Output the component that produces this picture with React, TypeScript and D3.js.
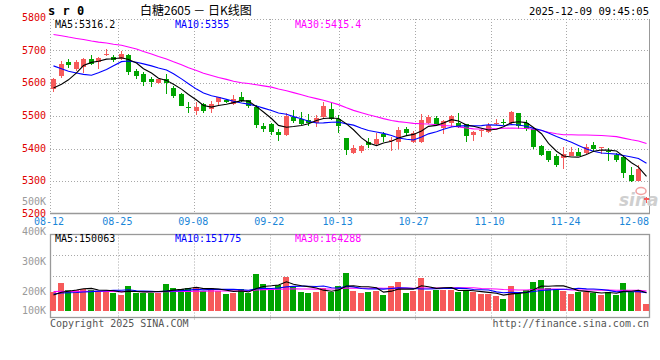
import React, { useEffect, useRef } from "react";
import * as d3 from "d3";

// trading days shown (08-12 .. 12-09, last one is the live session)
const dates = [
  "08-12", "08-13", "08-14", "08-15", "08-18", "08-19", "08-20", "08-21", "08-22", "08-25",
  "08-26", "08-27", "08-28", "08-29", "09-01", "09-02", "09-03", "09-04", "09-05", "09-08",
  "09-09", "09-10", "09-11", "09-12", "09-15", "09-16", "09-17", "09-18", "09-19", "09-22",
  "09-23", "09-24", "09-25", "09-26", "09-29", "09-30", "10-09", "10-10", "10-13", "10-14",
  "10-15", "10-16", "10-17", "10-20", "10-21", "10-22", "10-23", "10-24", "10-27", "10-28",
  "10-29", "10-30", "10-31", "11-03", "11-04", "11-05", "11-06", "11-07", "11-10", "11-11",
  "11-12", "11-13", "11-14", "11-17", "11-18", "11-19", "11-20", "11-21", "11-24", "11-25",
  "11-26", "11-27", "11-28", "12-01", "12-02", "12-03", "12-04", "12-05", "12-08", "12-09",
];

const opens = [
  5582, 5622, 5664, 5642, 5650, 5675, 5665, 5685, 5680, 5674,
  5687, 5637, 5627, 5612, 5602, 5614, 5584, 5567, 5527, 5516,
  5537, 5520, 5543, 5549, 5537, 5559, 5549, 5528, 5470, 5476,
  5452, 5442, 5496, 5490, 5488, 5478, 5498, 5522, 5490, 5431,
  5387, 5392, 5420, 5413, 5444, 5424, 5421, 5459, 5421, 5421,
  5479, 5493, 5462, 5479, 5479, 5475, 5443, 5454, 5452, 5475,
  5482, 5477, 5510, 5479, 5459, 5408, 5394, 5376, 5370, 5378,
  5391, 5386, 5411, 5402, 5394, 5381, 5373, 5319, 5302, 5243,
];
const highs = [
  5617, 5667, 5675, 5670, 5677, 5685, 5680, 5704, 5687, 5700,
  5690, 5644, 5634, 5620, 5614, 5627, 5592, 5570, 5541, 5541,
  5540, 5547, 5559, 5552, 5564, 5574, 5550, 5532, 5477, 5478,
  5459, 5510, 5518, 5513, 5505, 5503, 5544, 5539, 5503, 5431,
  5410, 5412, 5433, 5448, 5452, 5436, 5467, 5466, 5455, 5505,
  5503, 5500, 5488, 5503, 5508, 5475, 5453, 5461, 5477, 5490,
  5490, 5516, 5510, 5487, 5459, 5412, 5394, 5385, 5405, 5404,
  5401, 5414, 5421, 5406, 5401, 5388, 5377, 5344, 5350, 5253,
];
const lows = [
  5574, 5617, 5647, 5637, 5630, 5657, 5642, 5682, 5664, 5670,
  5624, 5614, 5590, 5587, 5598, 5567, 5555, 5529, 5510, 5503,
  5508, 5510, 5531, 5538, 5533, 5544, 5525, 5462, 5450, 5442,
  5424, 5440, 5478, 5472, 5470, 5465, 5493, 5488, 5448, 5379,
  5383, 5388, 5403, 5410, 5420, 5392, 5400, 5440, 5418, 5418,
  5476, 5469, 5446, 5466, 5462, 5420, 5424, 5436, 5449, 5473,
  5473, 5475, 5460, 5455, 5400, 5378, 5360, 5343, 5337, 5376,
  5376, 5384, 5391, 5384, 5363, 5360, 5309, 5299, 5302, 5233,
];
const closes = [
  5612, 5660, 5657, 5666, 5675, 5660, 5677, 5690, 5672, 5690,
  5634, 5622, 5604, 5605, 5612, 5600, 5562, 5531, 5523, 5527,
  5516, 5537, 5557, 5541, 5552, 5547, 5529, 5472, 5460, 5452,
  5442, 5500, 5483, 5476, 5478, 5493, 5531, 5490, 5469, 5395,
  5403, 5407, 5412, 5429, 5436, 5427, 5457, 5449, 5448, 5488,
  5498, 5472, 5485, 5500, 5467, 5438, 5451, 5456, 5472, 5479,
  5477, 5513, 5469, 5459, 5405, 5381, 5365, 5350, 5385, 5391,
  5378, 5406, 5399, 5404, 5389, 5365, 5324, 5302, 5337, 5248,
];
const volumes = [
  160000, 235000, 174000, 174000, 182000, 174000, 165000, 165000, 151000, 132000,
  207000, 151000, 151000, 151000, 146000, 224000, 191000, 182000, 191000, 199000,
  165000, 191000, 165000, 140000, 151000, 182000, 151000, 308000, 224000, 182000,
  216000, 283000, 207000, 157000, 149000, 157000, 193000, 160000, 207000, 319000,
  168000, 151000, 160000, 168000, 132000, 210000, 244000, 151000, 168000, 277000,
  168000, 174000, 174000, 174000, 160000, 174000, 155000, 140000, 140000, 123000,
  98000, 207000, 160000, 174000, 241000, 258000, 193000, 182000, 168000, 140000,
  160000, 160000, 151000, 132000, 160000, 132000, 235000, 160000, 174000, 56000,
];

// closes / volumes before 08-12, estimated from where the MA lines start
const priorCloses = [
  5770, 5785, 5790, 5775, 5795, 5780, 5770, 5790, 5780, 5790,
  5815, 5835, 5830, 5840, 5825, 5815, 5800, 5805, 5790, 5760,
  5745, 5735, 5720, 5718, 5687, 5600, 5590, 5560, 5563,
];
const priorVolumes = [
  165000, 175000, 180000, 170000, 160000, 185000, 175000, 165000, 170000, 180000,
  160000, 175000, 170000, 165000, 180000, 170000, 160000, 175000, 170000, 160000,
  150000, 145000, 155000, 140000, 150000, 120000, 130000, 125000, 125000,
];

const priceTicks = [5200, 5300, 5400, 5500, 5600, 5700, 5800];
const priceGrid = [5300, 5400, 5500, 5600, 5700];
const volTicks = [100000, 200000, 300000, 400000, 500000];
const dateTicks = ["08-12", "08-25", "09-08", "09-22", "10-13", "10-27", "11-10", "11-24", "12-08"];

const RED = "#f65a5a";
const GREEN = "#00a400";
const MONO = "'DejaVu Sans Mono', monospace";

const movingAvg = (prior: number[], vals: number[], n: number) => {
  const all = prior.concat(vals);
  return vals.map((_, i) => d3.mean(all.slice(prior.length + i - n + 1, prior.length + i + 1)) as number);
};

const App = () => {
  const svgRef = useRef<SVGSVGElement>(null);

  useEffect(() => {
    const svg = d3.select(svgRef.current);
    svg.selectAll("*").remove();

    const left = 50;
    const right = 650;
    const mainTop = 19;
    const mainBottom = 213.5;
    const volTop = 234.5;
    const volBottom = 317.5;
    const volBase = 310.7;

    const idx = d3.range(dates.length);
    const x = d3.scaleBand<number>().domain(idx).range([left, right]);
    const bw = x.bandwidth();
    const cx = (i: number) => Math.floor((x(i) as number) + bw / 2) + 0.5;
    // date gridlines sit on a point scale over the same width
    const xg = d3.scalePoint<string>().domain(dates).range([left, right]);
    const gx = (d: string) => Math.round(xg(d) as number) + 0.5;

    const y = d3.scaleLinear().domain([5200, 5800]).range([214, 17.8]);
    const yv = d3.scaleLinear().domain([0, 600000]).range([volBase, volBase - 600000 / 8400]);
    const yvLabel = d3.scaleLinear().domain([200000, 500000]).range([290.7, 200.7]);

    svg.append("rect").attr("width", 660).attr("height", 360).attr("fill", "#fff");

    // ---- header
    svg.append("text").attr("x", 48).attr("y", 15).attr("font-family", MONO)
      .attr("font-size", 12).attr("font-weight", "bold").attr("fill", "#000").text("s r 0");
    svg.append("text").attr("x", 140).attr("y", 15)
      .attr("font-family", "'Noto Sans CJK SC', sans-serif").attr("font-size", 12).attr("fill", "#000")
      .text("白糖2605 － 日K线图");
    svg.append("text").attr("x", 649).attr("y", 15).attr("text-anchor", "end").attr("font-family", MONO)
      .attr("font-size", 10.5).attr("fill", "#000").text("2025-12-09 09:45:05");

    // ---- main panel grid
    const grid = svg.append("g").attr("stroke", "#a8a8a8").attr("stroke-dasharray", "1,2").attr("fill", "none");
    priceGrid.forEach((p) => {
      const yy = Math.round(y(p)) + 0.5;
      grid.append("line").attr("x1", left).attr("x2", right).attr("y1", yy).attr("y2", yy);
    });
    grid.append("line").attr("x1", left).attr("x2", right).attr("y1", mainTop + 0.5).attr("y2", mainTop + 0.5);
    grid.append("line").attr("x1", left + 0.5).attr("x2", left + 0.5).attr("y1", mainTop).attr("y2", mainBottom);
    dateTicks.slice(1, -1).forEach((d) => {
      grid.append("line").attr("x1", gx(d)).attr("x2", gx(d)).attr("y1", mainTop).attr("y2", mainBottom);
      grid.append("line").attr("x1", gx(d)).attr("x2", gx(d)).attr("y1", volTop).attr("y2", volBottom + 3);
    });
    svg.append("line").attr("x1", right - 0.5).attr("x2", right - 0.5).attr("y1", mainTop).attr("y2", mainBottom)
      .attr("stroke", "#999");
    svg.append("line").attr("x1", left).attr("x2", right).attr("y1", mainBottom).attr("y2", mainBottom)
      .attr("stroke", "#999").attr("stroke-width", 1.5);

    // price labels
    priceTicks.forEach((p) => {
      svg.append("text").attr("x", 46).attr("y", y(p) + 3).attr("text-anchor", "end")
        .attr("font-family", MONO).attr("font-size", 10).attr("fill", "#e00000").text(String(p));
    });

    // volume labels (sina places them on its own offset scale)
    volTicks.forEach((v) => {
      const yy = Math.min(yvLabel(v), 310);
      svg.append("text").attr("x", 46).attr("y", yy + 4).attr("text-anchor", "end")
        .attr("font-family", MONO).attr("font-size", 10).attr("fill", "#9a9a9a").text(`${v / 1000}K`);
    });

    // date labels
    dateTicks.forEach((d) => {
      const xx = Math.min(xg(d) as number, right - 15);
      svg.append("text").attr("x", xx - 1).attr("y", 225.3).attr("text-anchor", "middle")
        .attr("font-family", MONO).attr("font-size", 10).attr("fill", "#1a86d8").text(d);
    });

    // sina watermark
    svg.append("text").attr("x", 619).attr("y", 206).attr("font-family", "'DejaVu Sans', sans-serif")
      .attr("font-size", 17).attr("font-style", "italic").attr("font-weight", "bold").attr("fill", "#cfcfcf")
      .text("sina");
    svg.append("ellipse").attr("cx", 641).attr("cy", 191).attr("rx", 5).attr("ry", 3.5)
      .attr("fill", "none").attr("stroke", "#f2a0a0").attr("stroke-width", 1.5);

    // ---- candles
    const up = (i: number) => closes[i] >= opens[i];
    const candles = svg.append("g").attr("shape-rendering", "crispEdges");
    idx.forEach((i) => {
      const col = up(i) ? RED : GREEN;
      candles.append("line").attr("x1", cx(i)).attr("x2", cx(i))
        .attr("y1", y(highs[i])).attr("y2", y(lows[i])).attr("stroke", col);
      const top = Math.round(y(Math.max(opens[i], closes[i])));
      const bot = Math.round(y(Math.min(opens[i], closes[i])));
      candles.append("rect").attr("x", cx(i) - 3).attr("width", 5)
        .attr("y", top).attr("height", Math.max(1, bot - top)).attr("fill", col);
    });

    // ---- price MAs
    const ma5 = movingAvg(priorCloses, closes, 5);
    const ma10 = movingAvg(priorCloses, closes, 10);
    const ma30 = movingAvg(priorCloses, closes, 30);
    const pline = d3.line<number>().x((_, i) => cx(i)).y((d) => y(d));
    [[ma30, "#ff00ff"], [ma10, "#0000ff"], [ma5, "#000"]].forEach(([s, c]) => {
      svg.append("path").attr("d", pline(s as number[])).attr("fill", "none")
        .attr("stroke", c as string).attr("stroke-width", 1.1);
    });

    // legend
    const legend = (yy: number, items: [string, string, number][]) => {
      items.forEach(([t, c, xx]) => {
        svg.append("text").attr("x", xx).attr("y", yy).attr("font-family", MONO)
          .attr("font-size", 10).attr("fill", c).text(t);
      });
    };
    legend(27.5, [["MA5:5316.2", "#000", 55], ["MA10:5355", "#0000ff", 175], ["MA30:5415.4", "#ff00ff", 295]]);

    // ---- volume panel
    const vg = svg.append("g").attr("stroke", "#a8a8a8").attr("stroke-dasharray", "1,2");
    [volTop + (volBottom - volTop) / 4, volTop + (volBottom - volTop) / 2].forEach((yy) => {
      vg.append("line").attr("x1", left).attr("x2", right).attr("y1", Math.round(yy) + 0.5).attr("y2", Math.round(yy) + 0.5);
    });
    svg.append("rect").attr("x", left + 0.5).attr("y", volTop).attr("width", right - left - 1)
      .attr("height", volBottom - volTop).attr("fill", "none").attr("stroke", "#999").attr("stroke-width", 1.3);

    const bars = svg.append("g").attr("shape-rendering", "crispEdges");
    idx.forEach((i) => {
      const top = Math.round(yv(volumes[i]));
      bars.append("rect").attr("x", cx(i) - 3.5).attr("width", 6)
        .attr("y", top).attr("height", Math.round(volBase) - top)
        .attr("fill", up(i) ? RED : GREEN);
    });

    const vma5 = movingAvg(priorVolumes, volumes, 5);
    const vma10 = movingAvg(priorVolumes, volumes, 10);
    const vma30 = movingAvg(priorVolumes, volumes, 30);
    const vline = d3.line<number>().x((_, i) => cx(i)).y((d) => yv(d));
    [[vma30, "#ff00ff"], [vma10, "#0000ff"], [vma5, "#000"]].forEach(([s, c]) => {
      svg.append("path").attr("d", vline(s as number[])).attr("fill", "none")
        .attr("stroke", c as string).attr("stroke-width", 1.1);
    });

    legend(242, [["MA5:150063", "#000", 55], ["MA10:151775", "#0000ff", 175], ["MA30:164288", "#ff00ff", 295]]);

    // footer
    svg.append("text").attr("x", 50).attr("y", 327).attr("font-family", MONO).attr("font-size", 10)
      .attr("fill", "#555").text("Copyright 2025 SINA.COM");
    svg.append("text").attr("x", 649).attr("y", 327).attr("text-anchor", "end").attr("font-family", MONO)
      .attr("font-size", 10).attr("fill", "#555").text("http://finance.sina.com.cn");
  }, []);

  return (
    <svg
      ref={svgRef}
      width={660}
      height={360}
      style={{ position: "absolute", left: 0, top: 0, display: "block" }}
    />
  );
};

export default App;
